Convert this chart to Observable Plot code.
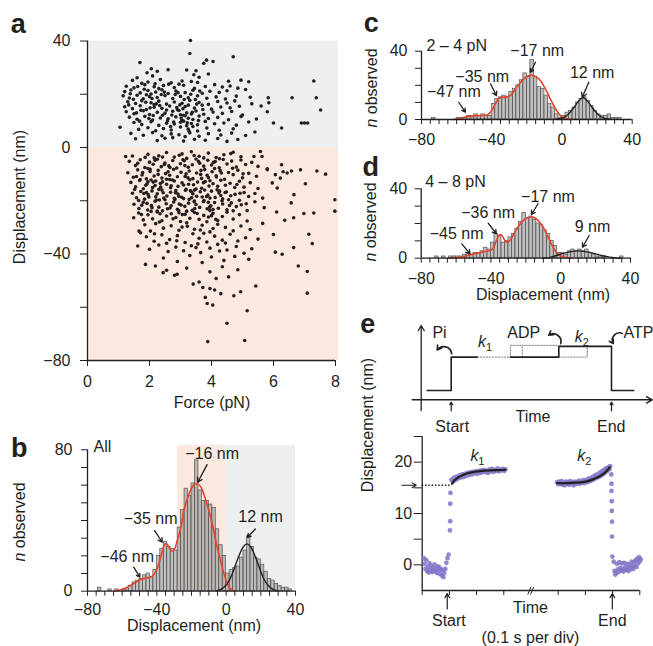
<!DOCTYPE html>
<html><head><meta charset="utf-8">
<script src="https://cdn.jsdelivr.net/npm/d3@7"></script>
<script src="https://cdn.jsdelivr.net/npm/@observablehq/plot@0.6"></script>
<style>
body{margin:0;background:#fff;}
#fig{position:relative;width:653px;height:646px;overflow:hidden;font-family:"Liberation Sans",Arial,sans-serif;color:#231f20;}
.p{position:absolute;}
</style></head><body><div id="fig"></div>
<script>
// ---------------- DATA ----------------
// Panel a: force (pN) vs displacement (nm)
const scatterPoints = [
[3.32,40.2],[3.30,35.3],[4.70,34.1],[3.84,32.8],[3.75,31.6],[1.69,31.9],[4.05,32.3],
[2.06,29.6],[1.92,28.1],[2.60,29.2],[3.20,29.1],[3.50,28.8],[2.25,28.6],
[3.43,27.3],[3.60,26.4],[3.90,27.6],[2.10,26.9],[1.60,26.2],
[1.45,25.2],[1.95,24.6],[2.35,25.5],[2.70,24.3],[3.05,25.0],[3.35,24.8],[3.55,24.4],[4.55,24.9],[4.95,25.3],[5.20,24.7],[7.30,25.0],[1.75,24.1],
[1.25,23.0],[1.50,22.4],[1.85,23.6],[2.15,22.8],[2.45,23.3],[2.80,22.5],[3.10,23.4],[3.45,22.2],[3.80,22.9],[4.10,23.6],[4.35,22.7],[4.60,23.1],[4.85,22.3],[2.30,22.1],[2.95,23.8],
[1.20,21.0],[1.40,21.6],[1.70,20.5],[1.95,21.4],[2.20,20.8],[2.40,21.7],[2.60,20.3],[2.85,21.2],[3.15,20.6],[3.40,21.5],[3.70,20.4],[3.95,21.1],[4.25,20.7],[4.50,21.3],[5.10,21.8],[2.05,20.1],
[1.15,19.4],[1.35,18.6],[1.60,19.6],[1.80,18.3],[2.00,19.1],[2.25,18.8],[2.50,19.5],[2.75,18.4],[3.00,19.2],[3.25,18.7],[3.55,19.4],[3.85,18.5],[4.15,19.0],[4.45,18.2],[4.80,19.3],[5.25,18.9],[5.83,18.7],[6.60,18.7],[7.38,18.7],[1.90,19.8],
[1.30,17.2],[1.55,16.5],[1.75,17.6],[2.05,16.8],[2.30,17.4],[2.55,16.3],[2.80,17.1],[3.05,16.6],[3.30,17.7],[3.60,16.9],[3.90,16.2],[4.20,17.3],[4.50,16.7],[4.75,17.5],[5.30,16.4],[5.85,16.8],[2.15,16.1],
[1.20,15.3],[1.45,14.6],[1.70,15.7],[1.90,14.3],[2.15,15.1],[2.40,14.7],[2.65,15.6],[2.90,14.2],[3.15,15.4],[3.45,14.8],[3.70,15.9],[4.00,14.4],[4.30,15.2],[4.60,14.9],[4.90,15.5],[5.60,15.6],[7.52,14.1],[2.55,14.1],[3.25,15.9],
[1.25,13.4],[1.50,12.7],[1.80,13.8],[2.00,12.4],[2.25,13.2],[2.50,12.9],[2.75,13.6],[3.00,12.3],[3.20,13.0],[3.35,12.6],[3.50,13.7],[3.75,12.5],[4.05,13.3],[4.35,12.8],[4.65,13.5],[5.00,12.2],[5.80,13.4],[2.95,13.9],[3.10,12.1],
[1.35,11.4],[1.60,10.6],[1.85,11.7],[2.10,10.3],[2.35,11.1],[2.60,10.8],[2.85,11.5],[3.05,10.2],[3.25,11.0],[3.40,10.5],[3.60,11.8],[3.90,10.9],[4.20,11.3],[4.55,10.4],[4.95,11.6],[5.45,10.7],[3.15,11.9],
[1.50,9.4],[1.75,8.6],[2.05,9.7],[2.30,8.3],[2.55,9.1],[2.80,8.8],[3.00,9.5],[3.20,8.2],[3.35,9.0],[3.55,8.5],[3.80,9.8],[4.10,8.9],[4.40,9.2],[4.80,8.4],[5.20,9.6],[6.00,9.2],[6.90,9.2],[7.00,9.2],[7.10,9.2],[3.10,9.9],
[1.05,7.6],[1.65,6.8],[1.95,7.4],[2.20,6.3],[2.45,7.1],[2.70,6.6],[3.00,7.7],[3.25,6.9],[3.55,6.2],[3.85,7.3],[4.25,6.5],[4.70,7.0],[6.26,7.3],[3.40,7.9],
[1.40,5.3],[1.80,4.6],[2.10,5.6],[2.40,4.4],[2.70,5.1],[2.95,4.8],[3.30,5.5],[3.60,4.2],[3.90,5.2],[4.30,4.7],[4.65,5.4],[5.10,4.5],[5.40,5.8],[3.15,4.1],
[1.55,3.3],[2.25,2.6],[2.75,3.7],[3.10,2.4],[3.45,3.1],[3.80,2.7],[4.20,3.4],[4.50,2.3],[4.85,3.0],[2.50,3.5],
[1.38,20.2],[1.62,22.9],[1.88,17.0],[2.12,12.0],[2.38,19.9],[2.62,23.8],[2.88,15.0],[3.12,18.0],[3.38,13.2],[3.62,21.2],[1.48,18.1],[1.72,14.0],[1.98,10.9],[2.22,16.4],[2.48,20.8],[2.72,12.2],[2.98,16.0],[3.22,9.3],[3.48,18.0],[3.72,14.3],
[1.33,16.0],[1.58,13.0],[1.83,21.9],[2.08,18.4],[2.33,15.8],[2.58,10.0],[2.83,19.9],[3.08,14.6],[3.33,20.0],[3.58,10.1],[2.18,23.9],[2.68,7.9],[3.02,11.1],[3.28,6.0],[2.42,12.1],[1.68,9.9],[2.92,20.6],[3.52,16.3],[2.78,9.6],[2.02,14.9],
[1.23,-3.4],[1.45,-3.2],[1.95,-2.6],[2.30,-3.1],[2.55,-1.9],[2.80,-3.6],[3.05,-2.4],[3.35,-1.6],[3.60,-3.3],[3.90,-2.1],[4.15,-3.8],[4.40,-2.7],[4.70,-1.8],[4.95,-3.5],[5.37,-3.4],[5.58,-1.5],[5.63,-3.4],[2.15,-3.9],[3.75,-3.9],
[1.35,-5.2],[1.55,-6.8],[1.70,-4.6],[1.85,-7.5],[2.00,-5.5],[2.12,-6.3],[2.25,-4.4],[2.38,-7.2],[2.50,-5.8],[2.62,-6.9],[2.75,-4.9],[2.88,-7.7],[3.00,-6.1],[3.12,-5.0],[3.25,-7.4],[3.38,-6.5],[3.50,-4.3],[3.62,-5.9],[3.75,-7.0],[3.88,-4.8],[4.00,-6.6],[4.12,-5.3],[4.25,-7.6],[4.38,-4.5],[4.50,-6.2],[4.65,-5.1],[4.80,-7.3],[4.95,-4.7],[5.10,-6.4],[5.30,-5.6],[5.50,-7.1],[5.80,-8.0],[6.26,-6.5],[1.95,-7.9],[3.20,-4.1],
[1.30,-9.5],[1.48,-11.2],[1.62,-8.4],[1.76,-10.3],[1.90,-11.8],[2.02,-9.0],[2.15,-10.7],[2.28,-8.6],[2.40,-11.5],[2.52,-9.8],[2.65,-10.4],[2.78,-8.2],[2.90,-11.0],[3.02,-9.3],[3.15,-10.9],[3.28,-8.8],[3.40,-11.7],[3.52,-9.6],[3.65,-10.1],[3.78,-8.3],[3.90,-11.3],[4.02,-9.1],[4.15,-10.6],[4.28,-8.7],[4.42,-11.9],[4.55,-9.4],[4.70,-10.2],[4.85,-8.5],[5.00,-11.4],[5.20,-9.7],[5.45,-10.8],[5.80,-8.3],[6.06,-10.2],[6.31,-9.1],[6.58,-8.8],[6.87,-8.4],[7.40,-8.8],[7.68,-10.0],[6.44,-9.6],[2.55,-11.9],
[1.40,-13.1],[1.55,-14.8],[1.68,-12.4],[1.80,-15.5],[1.92,-13.7],[2.05,-12.2],[2.18,-14.3],[2.30,-15.8],[2.42,-12.9],[2.55,-13.8],[2.68,-15.1],[2.80,-12.6],[2.92,-14.6],[3.05,-13.3],[3.18,-15.7],[3.30,-12.1],[3.42,-14.0],[3.55,-13.0],[3.68,-15.3],[3.80,-12.8],[3.92,-14.5],[4.05,-13.6],[4.18,-15.9],[4.30,-12.3],[4.45,-14.2],[4.60,-13.4],[4.75,-15.0],[4.90,-12.7],[5.05,-14.9],[5.25,-13.2],[5.50,-15.4],[5.96,-13.3],[6.22,-11.5],[6.12,-15.2],[7.03,-13.6],[2.10,-15.0],[2.65,-12.0],[3.50,-15.6],[1.95,-12.9],[3.10,-14.1],[3.95,-12.5],[2.35,-13.5],
[1.45,-17.2],[1.58,-18.9],[1.72,-16.5],[1.84,-19.4],[1.96,-17.8],[2.08,-16.3],[2.20,-18.5],[2.32,-19.7],[2.44,-17.0],[2.56,-18.2],[2.68,-16.8],[2.80,-19.1],[2.92,-17.5],[3.04,-18.7],[3.16,-16.1],[3.28,-19.5],[3.40,-17.4],[3.52,-18.3],[3.64,-16.6],[3.76,-19.9],[3.88,-17.9],[4.00,-16.4],[4.12,-18.8],[4.24,-17.1],[4.36,-19.3],[4.48,-16.7],[4.62,-18.1],[4.76,-17.6],[4.90,-19.8],[5.05,-16.9],[5.20,-18.4],[5.40,-17.3],[5.65,-19.0],[6.66,-17.7],[1.65,-19.9],[2.25,-17.4],[2.85,-16.2],[3.10,-19.2],[3.45,-16.0],[3.95,-19.0],[4.30,-18.0],[2.50,-19.6],[3.70,-18.6],[1.90,-16.9],[2.95,-18.4],[3.35,-16.6],[4.55,-19.6],[2.40,-16.0],
[1.50,-21.3],[1.66,-22.9],[1.80,-20.6],[1.94,-23.5],[2.06,-21.8],[2.18,-20.2],[2.30,-22.4],[2.42,-23.8],[2.54,-21.1],[2.66,-22.7],[2.78,-20.5],[2.90,-23.2],[3.02,-21.6],[3.14,-22.1],[3.26,-20.9],[3.38,-23.6],[3.50,-21.4],[3.62,-22.5],[3.74,-20.3],[3.86,-23.0],[3.98,-21.9],[4.10,-20.7],[4.22,-22.8],[4.36,-21.2],[4.50,-23.4],[4.64,-20.8],[4.80,-22.2],[4.96,-21.5],[5.15,-23.7],[5.40,-20.4],[5.70,-22.6],[6.57,-20.8],[7.98,-19.6],[7.98,-23.9],[2.25,-23.9],[3.20,-23.9],[3.95,-23.7],[2.70,-21.9],[3.45,-20.1],[4.05,-23.3],[1.75,-21.7],[4.70,-23.8],
[1.49,-26.4],[1.65,-24.6],[1.80,-27.2],[1.95,-25.3],[2.10,-26.8],[2.25,-24.2],[2.40,-27.5],[2.55,-25.7],[2.70,-24.9],[2.85,-26.3],[3.00,-27.8],[3.15,-25.1],[3.30,-26.6],[3.45,-24.4],[3.60,-27.0],[3.75,-25.5],[3.90,-26.1],[4.05,-24.7],[4.20,-27.4],[4.35,-25.9],[4.50,-24.3],[4.70,-26.9],[4.90,-25.2],[5.15,-27.6],[6.10,-24.2],[6.36,-27.3],[6.65,-26.4],[6.98,-24.8],[7.30,-24.6],[3.85,-27.9],[2.05,-24.0],[2.95,-24.5],
[1.66,-31.4],[1.85,-29.0],[2.03,-31.4],[2.20,-28.6],[2.45,-30.3],[2.70,-29.4],[2.95,-31.1],[3.20,-28.3],[3.45,-30.7],[3.70,-29.2],[3.95,-31.7],[4.20,-28.8],[4.45,-30.0],[4.70,-31.3],[4.95,-29.5],[5.25,-30.8],[5.65,-28.5],[1.71,-32.0],[3.05,-29.9],[4.05,-30.4],
[1.90,-33.5],[2.15,-35.2],[2.40,-32.8],[2.65,-34.6],[2.90,-33.1],[3.15,-35.7],[3.40,-32.4],[3.60,-34.1],[3.85,-35.5],[4.10,-33.3],[4.35,-34.8],[4.60,-32.6],[4.85,-35.1],[5.10,-33.9],[5.50,-34.4],[6.00,-32.7],[7.14,-32.6],[2.55,-36.0],[3.75,-32.2],[4.45,-35.9],
[1.62,-37.0],[2.00,-38.2],[2.30,-36.6],[2.60,-39.1],[2.85,-37.4],[3.10,-38.8],[3.35,-36.9],[3.65,-39.5],[3.95,-37.8],[4.20,-36.4],[4.50,-38.5],[4.80,-37.2],[5.05,-39.7],[5.30,-38.0],[6.06,-39.3],[6.65,-37.6],[7.25,-36.1],[3.50,-37.6],
[1.87,-43.9],[2.45,-41.5],[2.90,-42.8],[3.30,-40.6],[3.70,-43.2],[4.00,-41.1],[4.40,-42.4],[4.75,-40.9],[6.28,-40.1],[5.20,-42.0],
[2.19,-44.5],[2.44,-47.0],[2.55,-46.1],[2.81,-48.0],[3.20,-45.3],[3.95,-46.7],[4.35,-44.8],[4.85,-45.9],[6.80,-44.5],[7.09,-46.6],
[2.89,-47.6],[3.41,-51.3],[3.60,-50.5],[4.15,-49.2],[4.55,-48.6],[5.43,-52.0],[3.72,-52.6],
[3.80,-56.3],[4.72,-55.7],[4.94,-54.2],[7.09,-54.7],[4.10,-53.5],[4.30,-54.9],[3.95,-53.0],
[3.86,-58.6],[4.04,-59.2],[5.15,-61.3],[4.50,-66.0],[3.88,-72.9],[5.07,-72.5],
[1.62,-5.9],[1.78,-9.4],[1.88,-14.2],[1.98,-18.6],[2.08,-22.6],[2.18,-4.8],[2.28,-10.1],[2.36,-14.9],[2.46,-19.0],[2.58,-23.0],[2.66,-7.5],[2.74,-12.2],[2.84,-17.0],[2.96,-21.2],[3.06,-25.2],[3.14,-6.8],[3.24,-11.4],[3.32,-16.2],[3.44,-20.4],[3.54,-24.8],
[3.66,-8.6],[3.74,-13.2],[3.84,-18.4],[3.94,-22.4],[4.06,-5.6],[4.16,-11.1],[4.26,-16.4],[4.34,-20.0],[1.70,-12.0],[1.82,-17.3],[1.92,-21.0],[2.02,-8.2],[2.12,-13.0],[2.22,-19.7],[2.34,-24.9],[2.48,-6.4],[2.60,-9.1],[2.70,-14.4],[2.82,-19.5],[2.94,-23.7],
[3.08,-4.6],[3.18,-9.9],[3.26,-13.8],[3.36,-18.9],[3.46,-22.9],[3.58,-5.2],[3.68,-11.6],[3.78,-16.0],[3.90,-20.6],[4.00,-25.6],[4.10,-7.9],[4.20,-14.6],[4.32,-9.6],[4.44,-16.9],[4.58,-21.8],[4.68,-7.8],[4.82,-13.9],[4.92,-17.2],[5.02,-9.9],[5.12,-21.1],
[1.74,-25.2],[2.32,-28.0],[2.76,-26.8],[3.22,-29.6],[3.64,-31.0],[4.14,-27.0],[2.16,-32.4],[2.88,-35.0],[3.56,-36.2],[4.26,-38.9],[1.58,-10.9],[1.52,-15.8],[2.42,-3.6],[3.44,-3.0],[4.26,-4.2],[1.86,-3.7],[2.96,-2.9],[4.62,-2.3],[3.86,-10.4],[2.20,-12.6]
];
const forceTicks = [0, 2, 4, 6, 8];
const dispTicksA = [-80, -60, -40, -20, 0, 20, 40];
const dispLabelsA = [-80, -40, 0, 40];

// Histograms b, c, d: 2-nm bins, centres -73 ... 37
const binCenters = [-73,-71,-69,-67,-65,-63,-61,-59,-57,-55,-53,-51,-49,-47,-45,-43,-41,-39,-37,-35,-33,-31,-29,-27,-25,-23,-21,-19,-17,-15,-13,-11,-9,-7,-5,-3,-1,1,3,5,7,9,11,13,15,17,19,21,23,25,27,29,31,33,35,37];
const countsAll = [2,0,0,1,0,1,0,1, 1,3,5,6,7,9,10,8, 12,20,24,28,25,24,23,36, 46,58,54,61,74,57,51,51, 49,47,35,26,20,10,12,13, 14,19,23,31,25,19,18,15, 11,7,6,4,3,2,2,1];
const counts2to4 = [1,0,0,0,0,0,0,1, 1,1,2,2,3,2,3,2, 2,9,12,13,14,13,16,18, 20,23,27,25,35,25,19,18, 14,9,7,3,1,2,4,5, 7,10,12,13,11,8,5,3, 2,2,3,1,1,1,0,0];
const counts4to8 = [0,1,0,1,0,1,1,1, 1,2,3,2,3,3,4,6, 5,9,14,13,9,10,12,14, 17,21,26,23,24,22,20,19, 16,14,10,7,3,3,2,4, 5,4,5,4,5,3,2,1, 1,1,0,0,0,0,1,0];
const histTicks = d3.range(-80, 41, 5);
const histLabels = [-80, -40, 0, 40];

// Fitted curves [displacement, n]
const redAll = [[-64,0.3],[-60,1],[-56,2.8],[-52,5.2],[-49,6.8],[-46,7.5],[-43,8.3],[-41,10.5],[-39,15],[-37,22],[-35.5,26.5],[-34.5,27],[-33,25],[-31.5,22.8],[-30,23.5],[-28.2,28.7],[-26,36.5],[-24.4,45.7],[-22.5,52],[-20.6,57],[-18.8,60],[-17.1,60.8],[-15,59.5],[-12.9,55],[-11,49],[-9,42],[-7,33.5],[-5.2,25],[-3.2,17],[-1.3,10],[0.5,5],[2.5,1.3],[4.5,0.3]];
const blackAll = [[-6,0.2],[-3,1],[0,3.5],[2,6.5],[4,11],[6,16.5],[8,21.5],[10,25.3],[12,26.8],[14,25.3],[16,21.5],[18,16.5],[20,11],[22,6.5],[24,3.5],[27,1],[30,0.2]];
const red2to4 = [[-62,0],[-58,0.6],[-55,1.4],[-51,2.1],[-47.4,2.3],[-44,2.4],[-42,3],[-40,5.3],[-38,9],[-36,12.2],[-34,13],[-32,13.2],[-30,13.6],[-28,15.5],[-26.5,18],[-24.5,20.5],[-22.7,22.8],[-20.8,24.6],[-19,25.6],[-17.5,26],[-16,25.6],[-14,24.5],[-12.3,22.8],[-10.3,19.5],[-8.5,16],[-6.5,11.8],[-4.7,8.2],[-2.8,4.8],[-0.9,2.3],[1,1],[2.9,0.4],[5.8,0]];
const black2to4 = [[-4,0.1],[-1,0.5],[1,1.2],[3,2.5],[5,4.7],[7,7.3],[9,10.2],[10.5,11.9],[12,12.7],[13.5,11.9],[15,10.2],[17,7.3],[19,4.7],[21,2.5],[23,1.2],[25,0.5],[28,0.1]];
const red4to8 = [[-64,0],[-60,0.3],[-56.7,0.7],[-54,1.3],[-52,2],[-48,2.8],[-45,3.5],[-42.5,4],[-40.5,4.4],[-39,5.5],[-37.7,8.3],[-36.5,11],[-35.5,13],[-34.3,13.6],[-33,12],[-32,10.2],[-30.8,9.2],[-29.5,9.8],[-28,12],[-26.3,15],[-24.5,18],[-22.5,20.8],[-20.5,22.5],[-18.7,23.3],[-16.4,23.7],[-14.5,23],[-13,21.7],[-11,19.3],[-9.2,16.3],[-7.3,12.3],[-5.4,8.3],[-3.5,4.8],[-1.6,2.5],[0.3,1.2],[2.2,0.6],[6,0]];
const black4to8 = [[-10,0],[-6,0.5],[-2,1.7],[2,2.9],[6,3.8],[9,4.2],[12,4.1],[16,3.5],[20,2.5],[24,1.4],[28,0.6],[32,0.15],[34,0]];

// Peak annotations: label, label position, arrow start -> end
const annotAll = [
 {label:"−46 nm", x:-57.1, y:19.2, x1:-53.3, y1:13.6, x2:-49.8, y2:7.9},
 {label:"−35 nm", x:-43.6, y:40.9, x1:-41.3, y1:34.3, x2:-36.9, y2:27.7},
 {label:"−16 nm", x:-8.1, y:77.6, x1:-11, y1:71.6, x2:-16.4, y2:61.6},
 {label:"12 nm", x:19.8, y:41.8, x1:16.9, y1:35.2, x2:12.2, y2:30.5}
];
const annot2to4 = [
 {label:"−47 nm", x:-61.6, y:16, x1:-58.8, y1:10.1, x2:-55, y2:4.3},
 {label:"−35 nm", x:-45.4, y:25.1, x1:-40.7, y1:20.9, x2:-37.3, y2:14},
 {label:"−17 nm", x:-14.1, y:40.4, x1:-15.1, y1:33.5, x2:-17.9, y2:27.7},
 {label:"12 nm", x:17.2, y:27.3, x1:15.3, y1:21.8, x2:11.5, y2:13}
];
const annot4to8 = [
 {label:"−45 nm", x:-59.7, y:14.1, x1:-56.7, y1:8.3, x2:-52, y2:2.5},
 {label:"−36 nm", x:-41.6, y:26, x1:-41.6, y1:20.2, x2:-36.9, y2:14.1},
 {label:"−17 nm", x:-7.3, y:35.2, x1:-13, y1:31.4, x2:-16.8, y2:25.2},
 {label:"9 nm", x:18.2, y:18.3, x1:16.3, y1:13.1, x2:12.5, y2:6.3}
];

// Panel e schematic (time units, level units)
const schemSolid = [
 {seg:1,t:0.6,v:1},{seg:1,t:3,v:1},{seg:1,t:3,v:4.6},{seg:1,t:5.6,v:4.6},
 {seg:2,t:8.93,v:4.6},{seg:2,t:13.76,v:4.6},{seg:2,t:13.76,v:5.75},{seg:2,t:19.03,v:5.75},{seg:2,t:19.03,v:1},{seg:2,t:21.26,v:1}
];
const schemDotted = [
 {seg:1,t:5.6,v:4.6},{seg:1,t:8.93,v:4.6},
 {seg:2,t:8.93,v:4.6},{seg:2,t:8.93,v:5.85},{seg:2,t:13.76,v:5.85},
 {seg:3,t:10.1,v:4.6},{seg:3,t:10.1,v:5.85},
 {seg:4,t:13.76,v:4.6},{seg:4,t:16.6,v:4.6},{seg:4,t:16.6,v:5.75}
];
const schemLabels = [
 {label:"Pi", t:1.83, v:7.19}, {label:"ADP", t:10.26, v:7.19}, {label:"ATP", t:21.73, v:7.19},
 {label:"Start", t:3.1, v:-2.93}, {label:"Time", t:11.18, v:-1.87}, {label:"End", t:19.0, v:-2.93}
];
const schemRates = [{k:"k", sub:"1", t:6.08, v:6.25}, {k:"k", sub:"2", t:15.76, v:6.78}];
const releasePi = [{t1:3.05, v1:4.95, t2:1.6, v2:5.35}];
const releaseADP = [{t1:13.95, v1:6.05, t2:12.75, v2:6.95}];
const bindATP = [{t1:20.1, v1:7.15, t2:19.2, v2:6.05}];
const schemMarkers = [{t:3.0}, {t:19.03}];

// Panel e trace (time in divisions of 0.1 s, displacement nm)
const tracePoints = [
[0.06,1.3],[0.09,0.2],[0.12,-0.8],[0.15,0.9],[0.18,-1.2],[0.21,-0.4],[0.24,-1.5],[0.27,0.3],[0.30,-1.0],[0.33,-0.2],[0.36,-1.4],[0.39,-0.6],[0.42,-1.1],[0.45,0.1],[0.48,-1.3],[0.51,-0.7],[0.54,-1.6],[0.57,-0.3],[0.60,-1.2],[0.63,-0.5],[0.66,-1.8],[0.69,-0.9],[0.72,-2.1],[0.75,-1.0],[0.78,-2.4],[0.81,-1.6],[0.85,-0.8],[0.89,0.4],[0.93,1.3],[0.97,2.0],
[1.02,6.7],[1.03,8.5],[1.03,11.9],[1.04,14.0],
[1.07,16.6],[1.12,16.2],[1.17,17.0],[1.22,16.5],[1.27,17.2],[1.32,16.8],[1.37,17.4],[1.42,17.0],[1.47,17.6],[1.52,17.1],[1.57,17.7],[1.62,17.3],[1.67,17.9],[1.72,17.5],[1.77,18.0],[1.82,17.6],[1.87,18.1],[1.92,17.8],[1.97,18.2],[2.02,17.7],[2.07,18.3],[2.12,17.9],[2.17,18.4],[2.22,18.0],[2.27,18.5],[2.32,18.1],[2.37,18.3],[2.42,17.9],[2.47,18.6],[2.52,18.2],[2.57,18.7],[2.62,18.1],[2.67,18.5],[2.72,18.3],[2.77,18.8],[2.82,18.2],[2.87,18.6],[2.92,18.4],[2.97,18.7],[3.02,18.3],[3.06,18.6],
[4.96,16.1],[5.00,15.7],[5.04,16.2],[5.08,15.8],[5.12,16.3],[5.16,15.6],[5.20,16.0],[5.24,15.5],[5.28,16.2],[5.32,15.8],[5.36,16.1],[5.40,15.6],[5.44,16.3],[5.48,15.9],[5.52,16.0],[5.56,15.5],[5.60,16.2],[5.64,15.7],[5.68,16.1],[5.72,15.9],[5.76,16.4],[5.80,15.8],[5.84,16.2],[5.88,16.0],[5.92,16.5],[5.96,15.9],[6.00,16.3],[6.04,16.6],[6.08,16.1],[6.12,16.8],[6.16,16.3],[6.20,16.9],[6.24,16.5],[6.28,17.2],[6.32,16.7],[6.36,17.4],[6.40,16.9],[6.44,17.6],[6.48,17.1],[6.52,17.9],[6.56,17.3],[6.60,18.2],[6.64,17.6],[6.68,18.5],[6.72,17.9],[6.76,18.8],[6.80,18.3],[6.84,19.0],[6.88,18.6],[6.91,19.2],
[6.95,17.6],[6.96,15.8],[6.96,14.4],[6.97,12.4],[6.97,10.5],[6.98,8.4],[6.98,5.5],[6.99,1.6],
[7.04,0.6],[7.07,-1.2],[7.10,-1.9],[7.13,-1.6],[7.16,0.2],[7.19,-0.9],[7.22,-1.4],[7.25,0.5],[7.28,-0.6],[7.31,-1.1],[7.34,0.3],[7.37,-0.8],[7.40,-1.3],[7.43,0.4],[7.46,-0.5],[7.49,-1.0],[7.52,0.2],[7.55,-0.7],[7.58,-1.2],[7.61,0.1],[7.64,-0.4],[7.67,-0.9],[7.70,0.6],[7.73,-0.3],[7.76,-0.8],[7.79,0.5],[7.82,-0.2],[7.85,0.9],[7.88,-0.4],[7.91,1.2],[7.94,0.3],[7.97,1.5],[8.00,0.7],[8.03,1.1]
];
const fitK1 = [[1.1,15.8],[1.2,16.5],[1.35,17.1],[1.5,17.5],[1.7,17.9],[1.9,18.1],[2.2,18.3],[2.5,18.4],[2.8,18.45],[3.06,18.5]];
const fitK2 = [[4.96,15.9],[5.3,15.9],[5.6,16.0],[5.9,16.1],[6.15,16.4],[6.4,16.9],[6.6,17.5],[6.75,18.1],[6.9,19.0]];
const startLevel = 15.5;
const eYTicks = [0, 5, 10, 15, 20, 25];
const eYLabels = [0, 10, 20];
const eXTicks = [0, 1, 2, 3, 5, 6, 7, 8];
const axisBreak = 4;
const eLabels = [
 {label:"Start", t:0.98, v:-11.0}, {label:"Time", t:3.98, v:-8.4}, {label:"End", t:6.99, v:-11.0}, {label:"(0.1 s per div)", t:3.98, v:-14.2}
];
const eMarkers = [{t:0.92}, {t:6.99}];
const eRates = [{k:"k", sub:"1", t:1.92, v:21.3}, {k:"k", sub:"2", t:5.85, v:21.3}];

// ---------------- DRAWING ----------------
const ink = "#231f20";
const fmt = d3.format("");
const baseStyle = {background:"transparent", fontFamily:'"Liberation Sans", Arial, sans-serif', fontSize:"16px", color:ink, overflow:"visible"};
const fig = document.getElementById("fig");
function place(el, left, top) {
  const d = document.createElement("div");
  d.className = "p"; d.style.left = left + "px"; d.style.top = top + "px";
  d.appendChild(el); fig.appendChild(d);
}
const toBins = counts => binCenters.map((x, i) => ({x, n: counts[i]})).filter(d => d.n > 0);

// Panel a
place(Plot.plot({
  width: 345, height: 420, marginLeft: 87, marginRight: 10, marginTop: 40.5, marginBottom: 60,
  style: baseStyle,
  x: {domain: [0, 8]}, y: {domain: [-80, 40]},
  marks: [
    Plot.rect([0], {x1: 0, x2: 8.1, y1: 0, y2: 40, fill: "#edeff1"}),
    Plot.rect([0], {x1: 0, x2: 8.1, y1: -80, y2: 0, fill: "#fbe8df"}),
    Plot.dot(scatterPoints, {x: d => d[0], y: d => d[1], r: 1.8, fill: ink, stroke: null}),
    Plot.ruleX([0], {y1: -80, y2: 40, stroke: ink, strokeWidth: 1.3}),
    Plot.ruleY([-80], {x1: 0, x2: 8, stroke: ink, strokeWidth: 1.3}),
    Plot.axisX({ticks: forceTicks, tickSize: 6, tickPadding: 9, label: null, tickFormat: fmt, fontSize: 16}),
    Plot.axisY({ticks: dispTicksA, tickSize: 7, tickPadding: 10, label: null, fontSize: 16,
      tickFormat: d => dispLabelsA.includes(d) ? fmt(d) : ""})
  ]
}), 0, 0);

function histPlot(opts) {
  const {counts, red, black, annot, title, yMax, yTicks, yLabels, bg} = opts;
  const marks = [];
  if (bg) {
    marks.push(Plot.rect([0], {x1: -28, x2: 0, y1: 0, y2: 82.5, fill: "#fbe8df"}));
    marks.push(Plot.rect([0], {x1: 0, x2: 40, y1: 0, y2: 82.5, fill: "#edeff1"}));
  }
  marks.push(
    Plot.rect(toBins(counts), {x1: d => d.x - 1, x2: d => d.x + 1, y1: 0, y2: "n", fill: "#8c8c8c", fillOpacity: 0.55, stroke: "#555", strokeWidth: 0.7}),
    Plot.line(red, {x: d => d[0], y: d => d[1], stroke: "#e8432a", strokeWidth: 1.6, curve: "catmull-rom"}),
    Plot.line(black, {x: d => d[0], y: d => d[1], stroke: ink, strokeWidth: 1.4, curve: "catmull-rom"}),
    Plot.ruleX([-80], {y1: 0, y2: yMax, stroke: ink, strokeWidth: 1.3}),
    Plot.ruleY([0], {x1: -80, x2: 40, stroke: ink, strokeWidth: 1.3}),
    Plot.axisX({ticks: histTicks, tickSize: 5, tickPadding: opts.xPad, label: null, fontSize: 16,
      tickFormat: d => histLabels.includes(d) ? fmt(d) : ""}),
    Plot.axisY({ticks: yTicks, tickSize: 6, tickPadding: opts.yPad, label: null, fontSize: 16,
      tickFormat: d => yLabels.includes(d) ? fmt(d) : ""}),
    Plot.text([title], {x: -80, y: title.y, text: d => d.label, textAnchor: "start", dx: title.dx, fontSize: 16}),
    Plot.text(annot, {x: "x", y: "y", text: "label", fontSize: 16}),
    Plot.arrow(annot, {x1: "x1", y1: "y1", x2: "x2", y2: "y2", stroke: ink, strokeWidth: 1.3, headLength: 6})
  );
  return Plot.plot({
    width: opts.width, height: opts.height, marginLeft: opts.ml, marginRight: opts.mr,
    marginTop: opts.mt, marginBottom: opts.mb, style: baseStyle,
    x: {domain: [-80, 40]}, y: {domain: [0, yMax]}, marks
  });
}

// Panel b
place(histPlot({counts: countsAll, red: redAll, black: blackAll, annot: annotAll,
  title: {label: "All", y: 81.4, dx: 6}, yMax: 80, yTicks: d3.range(0, 81, 10), yLabels: [0, 80], bg: true,
  width: 320, height: 216, ml: 87, mr: 25, mt: 19.3, mb: 55.3, xPad: 7, yPad: 9}), 0, 430);

// Panel c
place(histPlot({counts: counts2to4, red: red2to4, black: black2to4, annot: annot2to4,
  title: {label: "2 – 4 pN", y: 43.3, dx: 5}, yMax: 40, yTicks: d3.range(0, 41, 10), yLabels: [0, 40], bg: false,
  width: 323, height: 160, ml: 91, mr: 21.3, mt: 50.7, mb: 41, xPad: 9, yPad: 8}), 330, 0);

// Panel d
place(histPlot({counts: counts4to8, red: red4to8, black: black4to8, annot: annot4to8,
  title: {label: "4 – 8 pN", y: 43.8, dx: 4}, yMax: 40, yTicks: d3.range(0, 41, 10), yLabels: [0, 40], bg: false,
  width: 323, height: 145, ml: 90.7, mr: 23, mt: 28.3, mb: 47.3, xPad: 9, yPad: 8}), 330, 160);

// Panel e schematic
const curvedOpts = {x1: "t1", y1: "v1", x2: "t2", y2: "v2", stroke: ink, strokeWidth: 1.6, headLength: 5};
place(Plot.plot({
  width: 323, height: 135, marginLeft: 81.7, marginRight: 1.3, marginTop: 20, marginBottom: 30,
  style: baseStyle, x: {domain: [-0.9, 23.1], axis: null}, y: {domain: [-1.15, 8], axis: null},
  marks: [
    Plot.arrow([0], {x1: 0, y1: -1.15, x2: 0, y2: 8, stroke: ink, strokeWidth: 1.3, headLength: 7}),
    Plot.arrow([0], {x1: -0.9, y1: 0, x2: 23.1, y2: 0, stroke: ink, strokeWidth: 1.4, headLength: 7}),
    Plot.line(schemDotted, {x: "t", y: "v", z: "seg", stroke: "#9a9a9a", strokeWidth: 1.3, strokeDasharray: "1.3,1.7"}),
    Plot.line(schemSolid, {x: "t", y: "v", z: "seg", stroke: ink, strokeWidth: 1.6}),
    Plot.arrow(releasePi, {...curvedOpts, bend: -70}),
    Plot.arrow(releaseADP, {...curvedOpts, bend: -70}),
    Plot.arrow(bindATP, {...curvedOpts, bend: -70}),
    Plot.arrow(schemMarkers, {x1: "t", y1: -1.2, x2: "t", y2: -0.25, stroke: ink, strokeWidth: 1.2, headLength: 6}),
    Plot.text(schemLabels, {x: "t", y: "v", text: "label", fontSize: 16}),
    Plot.text(schemRates, {x: "t", y: "v", text: "k", fontSize: 16, fontStyle: "italic"}),
    Plot.text(schemRates, {x: "t", y: "v", text: "sub", fontSize: 11, dx: 7, dy: 6})
  ]
}), 330, 305);

// Panel e trace
place(Plot.plot({
  width: 323, height: 221, marginLeft: 91.7, marginRight: 13.7, marginTop: 11, marginBottom: 56,
  style: baseStyle, x: {domain: [0, 8]}, y: {domain: [-5, 25]},
  marks: [
    Plot.ruleX([0], {y1: -5, y2: 25, stroke: ink, strokeWidth: 1.3}),
    Plot.ruleY([-5], {x1: 0, x2: 8, stroke: ink, strokeWidth: 1.3}),
    Plot.axisY({ticks: eYTicks, tickSize: 8, tickPadding: 2, label: null, fontSize: 16,
      tickFormat: d => eYLabels.includes(d) ? fmt(d) : ""}),
    Plot.axisX({ticks: eXTicks, tickSize: 5, label: null, tickFormat: () => ""}),
    Plot.link([axisBreak], {x1: d => d - 0.12, y1: -5.8, x2: d => d - 0.0, y2: -4.3, stroke: ink, strokeWidth: 1}),
    Plot.link([axisBreak], {x1: d => d - 0.02, y1: -5.8, x2: d => d + 0.1, y2: -4.3, stroke: ink, strokeWidth: 1}),
    Plot.dot(tracePoints, {x: d => d[0], y: d => d[1], r: 2.4, fill: "#7f75c8", fillOpacity: 0.85, stroke: null}),
    Plot.ruleY([startLevel], {x1: 0, x2: 1.1, stroke: ink, strokeWidth: 1.5, strokeDasharray: "1.5,1.8"}),
    Plot.arrow([startLevel], {x1: -0.75, x2: -0.22, y1: d => d, y2: d => d, stroke: ink, strokeWidth: 1.1, headLength: 7}),
    Plot.line(fitK1, {x: d => d[0], y: d => d[1], stroke: ink, strokeWidth: 2.2, curve: "catmull-rom"}),
    Plot.line(fitK2, {x: d => d[0], y: d => d[1], stroke: ink, strokeWidth: 2.2, curve: "catmull-rom"}),
    Plot.arrow(eMarkers, {x1: "t", y1: -8.6, x2: "t", y2: -5.6, stroke: ink, strokeWidth: 1.2, headLength: 6}),
    Plot.text(eLabels, {x: "t", y: "v", text: "label", fontSize: 16}),
    Plot.text(eRates, {x: "t", y: "v", text: "k", fontSize: 16, fontStyle: "italic"}),
    Plot.text(eRates, {x: "t", y: "v", text: "sub", fontSize: 11, dx: 7, dy: 6})
  ]
}), 330, 425);

// Overlay: panel letters and axis titles
const ov = d3.create("svg").attr("width", 653).attr("height", 646)
  .style("position", "absolute").style("left", "0px").style("top", "0px")
  .style("pointer-events", "none")
  .style("font-family", '"Liberation Sans", Arial, sans-serif').style("fill", ink);
const letters = [["a",18.3,33],["b",19.2,457],["c",371.3,31.7],["d",370.8,176],["e",367.8,333.3]];
letters.forEach(([t,x,y]) => ov.append("text").attr("x", x).attr("y", y).attr("text-anchor","middle")
  .attr("font-size", 27).attr("font-weight", "bold").text(t));
function title(x, y, rot, parts) {
  const t = ov.append("text").attr("text-anchor", "middle").attr("font-size", 16)
    .attr("transform", `translate(${x},${y})` + (rot ? " rotate(-90)" : ""));
  parts.forEach(([s, it]) => t.append("tspan").attr("font-style", it ? "italic" : null).text(s));
}
title(25, 197, true, [["Displacement (nm)"]]);
title(212, 408, false, [["Force (pN)"]]);
title(25, 522, true, [["n", true], [" observed"]]);
title(194, 631, false, [["Displacement (nm)"]]);
title(376.5, 88, true, [["n", true], [" observed"]]);
title(376, 222, true, [["n", true], [" observed"]]);
title(543, 300, false, [["Displacement (nm)"]]);
title(373, 425, true, [["Displacement (nm)"]]);
fig.appendChild(ov.node());
</script></body></html>
